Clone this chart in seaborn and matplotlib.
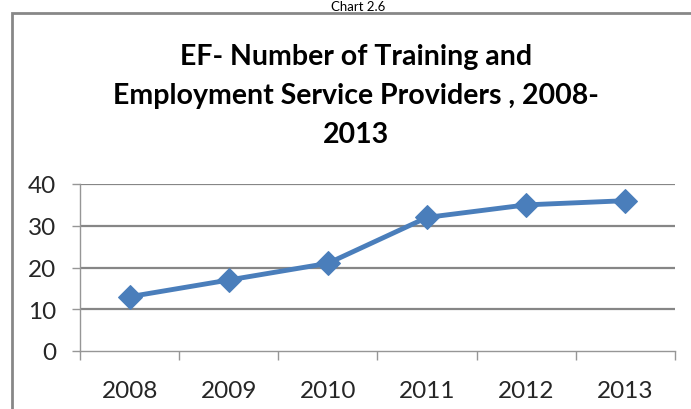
import matplotlib
matplotlib.use("Agg")
import matplotlib.pyplot as plt
import seaborn as sns
import pandas as pd
from matplotlib.patches import Rectangle
from matplotlib.ticker import FixedLocator

years = ["2008", "2009", "2010", "2011", "2012", "2013"]
providers = [13, 17, 21, 32, 35, 36]
y_ticks = [0, 10, 20, 30, 40]
title = "EF- Number of Training and\nEmployment Service Providers , 2008-\n2013"
top_caption = "Chart 2.6"

sns.set_theme(style="white")
plt.rcParams["font.family"] = ["Lato", "DejaVu Sans"]

W, H = 691, 410
fig = plt.figure(figsize=(W / 100, H / 100), dpi=100)
fig.patch.set_facecolor("white")

# outer chart border (extends past right/bottom edges)
fig.add_artist(Rectangle((12 / W, -0.1), 1.2, (1 - 14 / H) + 0.1,
                         transform=fig.transFigure, fill=False,
                         edgecolor="#878787", linewidth=2))

# caption above the chart
fig.text(358 / W, 1 - 11 / H, top_caption, ha="center", va="baseline",
         fontsize=9.5, color="black")

fig.text(356 / W, 1 - 44 / H, title, ha="center", va="top",
         fontsize=20.5, fontweight="bold", linespacing=1.63, color="black")

ax = fig.add_axes([80 / W, 1 - 352 / H, (675 - 80) / W, (352 - 185) / H])
df = pd.DataFrame({"year": years, "value": providers})
sns.lineplot(data=df, x="year", y="value", ax=ax, color="#4A7EBB",
             linewidth=3.5, marker="D", markersize=12.5,
             markeredgecolor="#4A7EBB", sort=False)

ax.set_xlim(-0.5, len(years) - 0.5)
ax.set_ylim(0, 40)
ax.set_yticks(y_ticks)
ax.set_xlabel("")
ax.set_ylabel("")

for v in y_ticks[1:]:
    ax.axhline(v, color="#868686", linewidth=1.6, zorder=0)

for side in ["top", "right"]:
    ax.spines[side].set_visible(False)
for side in ["left", "bottom"]:
    ax.spines[side].set_color("#969696")
    ax.spines[side].set_linewidth(1.0)

ax.xaxis.set_minor_locator(FixedLocator([i - 0.5 for i in range(len(years) + 1)]))
ax.tick_params(axis="x", which="major", length=0, pad=21, labelsize=17.5)
ax.tick_params(axis="x", which="minor", length=6.5, width=1.0, color="#969696",
               direction="out", bottom=True)
ax.tick_params(axis="y", which="major", length=6, width=1.0, color="#969696",
               direction="out", left=True, pad=11, labelsize=17.5)
ax.grid(False)
ax.set_facecolor("white")

fig.savefig("out.png", dpi=100, facecolor="white")
